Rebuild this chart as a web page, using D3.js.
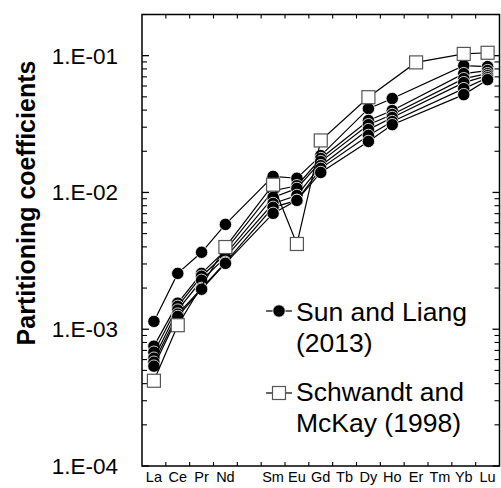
<!DOCTYPE html>
<html><head><meta charset="utf-8">
<script src="https://cdn.jsdelivr.net/npm/d3@7"></script>
<style>
body{margin:0;background:#fff;}
svg{display:block;font-family:"Liberation Sans",Arial,sans-serif;}
</style></head>
<body><svg id="c" width="501" height="488"></svg>
<script>
const elements = ["La","Ce","Pr","Nd","Pm","Sm","Eu","Gd","Tb","Dy","Ho","Er","Tm","Yb","Lu"];
const elementLabels = ["La","Ce","Pr","Nd","","Sm","Eu","Gd","Tb","Dy","Ho","Er","Tm","Yb","Lu"];
const yTickValues = [1e-4, 1e-3, 1e-2, 1e-1];
const yTickLabels = ["1.E-04","1.E-03","1.E-02","1.E-01"];

const sunElements = ["La","Ce","Pr","Nd","Sm","Eu","Gd","Dy","Ho","Yb","Lu"];
const sun1 = [1.14e-3, 2.56e-3, 3.65e-3, 5.84e-3, 1.31e-2, 1.27e-2, 1.86e-2, 4.10e-2, 4.86e-2, 8.45e-2, 8.32e-2];
const sun2 = [7.52e-4, 1.55e-3, 2.56e-3, 3.77e-3, 1.03e-2, 1.12e-2, 1.77e-2, 3.36e-2, 3.97e-2, 7.39e-2, 7.78e-2];
const sun3 = [6.79e-4, 1.47e-3, 2.44e-3, 3.53e-3, 9.2e-3, 1.07e-2, 1.68e-2, 3.13e-2, 3.71e-2, 6.79e-2, 7.39e-2];
const sun4 = [6.14e-4, 1.38e-3, 2.28e-3, 3.35e-3, 8.3e-3, 9.5e-3, 1.57e-2, 2.88e-2, 3.53e-2, 6.35e-2, 7.14e-2];
const sun5 = [5.74e-4, 1.29e-3, 1.99e-3, 3.08e-3, 7.78e-3, 8.75e-3, 1.50e-2, 2.61e-2, 3.30e-2, 5.74e-2, 6.90e-2];
const sun6 = [5.37e-4, 1.24e-3, 1.96e-3, 3.03e-3, 7.03e-3, 8.75e-3, 1.40e-2, 2.36e-2, 3.13e-2, 5.19e-2, 6.68e-2];

const schElements = ["La","Ce","Nd","Sm","Eu","Gd","Dy","Er","Yb","Lu"];
const schValues = [4.2e-4, 1.07e-3, 3.99e-3, 1.14e-2, 4.2e-3, 2.4e-2, 4.97e-2, 8.93e-2, 1.03e-1, 1.05e-1];

const legendLabels = [["Sun and Liang","(2013)"],["Schwandt and","McKay (1998)"]];

const svg = d3.select("#c");
const L = 142, R = 499.5, T = 14.5, B = 466;
const x = d3.scaleBand().domain(elements).range([L, R]);
const xc = e => x(e) + x.bandwidth()/2;
const y = d3.scaleLog().domain([1e-4, 0.2]).range([B, T]);

const minor = [];
for (let d = -4; d <= -1; d++) for (let m = 2; m <= 9; m++) { const v = m*Math.pow(10,d); if (v <= 0.2) minor.push(v); }
const g = svg.append("g");
g.selectAll(".lmaj").data(yTickValues).join("line").attr("x1",L).attr("x2",L+7).attr("y1",d=>y(d)).attr("y2",d=>y(d)).attr("stroke","#000").attr("stroke-width",1.3);
g.selectAll(".lmin").data(minor).join("line").attr("x1",L).attr("x2",L+5).attr("y1",d=>y(d)).attr("y2",d=>y(d)).attr("stroke","#000").attr("stroke-width",1.1);
g.selectAll(".rmaj").data(yTickValues).join("line").attr("x1",R).attr("x2",R-7).attr("y1",d=>y(d)).attr("y2",d=>y(d)).attr("stroke","#000").attr("stroke-width",1.3);
g.selectAll(".rmin").data(minor).join("line").attr("x1",R).attr("x2",R-5).attr("y1",d=>y(d)).attr("y2",d=>y(d)).attr("stroke","#000").attr("stroke-width",1.1);
const bounds = elements.slice(1).map(e => x(e));
g.selectAll(".bt").data(bounds).join("line").attr("x1",d=>d).attr("x2",d=>d).attr("y1",B).attr("y2",B-4).attr("stroke","#000").attr("stroke-width",1.1);
g.selectAll(".tt").data(bounds).join("line").attr("x1",d=>d).attr("x2",d=>d).attr("y1",T).attr("y2",T+4).attr("stroke","#000").attr("stroke-width",1.1);
svg.append("rect").attr("x",L).attr("y",T).attr("width",R-L).attr("height",B-T).attr("fill","none").attr("stroke","#000").attr("stroke-width",1.5);

svg.selectAll(".yl").data(yTickValues).join("text").attr("x",118).attr("y",d=>y(d)+8).attr("text-anchor","end")
  .attr("font-size",22.5).attr("fill","#000").text((d,i)=>yTickLabels[i]);
svg.selectAll(".xl").data(elements).join("text").attr("x",d=>xc(d)).attr("y",482).attr("text-anchor","middle")
  .attr("font-size",14.5).attr("fill","#000").text((d,i)=>elementLabels[i]);
svg.append("text").attr("transform","translate(35,203) rotate(-90)").attr("text-anchor","middle")
  .attr("font-size",25).attr("font-weight","bold").attr("fill","#000").text("Partitioning coefficients");

const line = d3.line().x(d=>xc(d.e)).y(d=>y(d.v));
const sunSeries = [sun1,sun2,sun3,sun4,sun5,sun6];
sunSeries.forEach(vals => {
  const pts = sunElements.map((e,i)=>({e, v: vals[i]}));
  const s = svg.append("g");
  s.append("path").attr("d", line(pts)).attr("fill","none").attr("stroke","#000").attr("stroke-width",1.2);
  s.selectAll("circle").data(pts).join("circle").attr("cx",d=>xc(d.e)).attr("cy",d=>y(d.v)).attr("r",6.2)
    .attr("fill","#000").attr("stroke","#fff").attr("stroke-width",0.8);
});
const schPts = schElements.map((e,i)=>({e, v: schValues[i]}));
const sg = svg.append("g");
sg.append("path").attr("d", line(schPts)).attr("fill","none").attr("stroke","#000").attr("stroke-width",1.2);
sg.selectAll("rect").data(schPts).join("rect").attr("x",d=>xc(d.e)-6.5).attr("y",d=>y(d.v)-6.5).attr("width",13).attr("height",13)
  .attr("fill","#fff").attr("stroke","#555").attr("stroke-width",1.2);

const lg = svg.append("g");
lg.append("line").attr("x1",266).attr("x2",292).attr("y1",311).attr("y2",311).attr("stroke","#000").attr("stroke-width",1.2);
lg.append("circle").attr("cx",279).attr("cy",311).attr("r",6.2).attr("fill","#000").attr("stroke","#fff").attr("stroke-width",0.8);
lg.append("line").attr("x1",266).attr("x2",292).attr("y1",393).attr("y2",393).attr("stroke","#000").attr("stroke-width",1.2);
lg.append("rect").attr("x",272.5).attr("y",386.5).attr("width",13).attr("height",13).attr("fill","#fff").attr("stroke","#555").attr("stroke-width",1.2);
const lb = [[321,352],[401,432]];
legendLabels.forEach((lines,i)=>{
  lines.forEach((t,j)=>{
    lg.append("text").attr("x",296).attr("y",lb[i][j]).attr("font-size",26.5).attr("fill","#000").text(t);
  });
});
</script></body></html>
